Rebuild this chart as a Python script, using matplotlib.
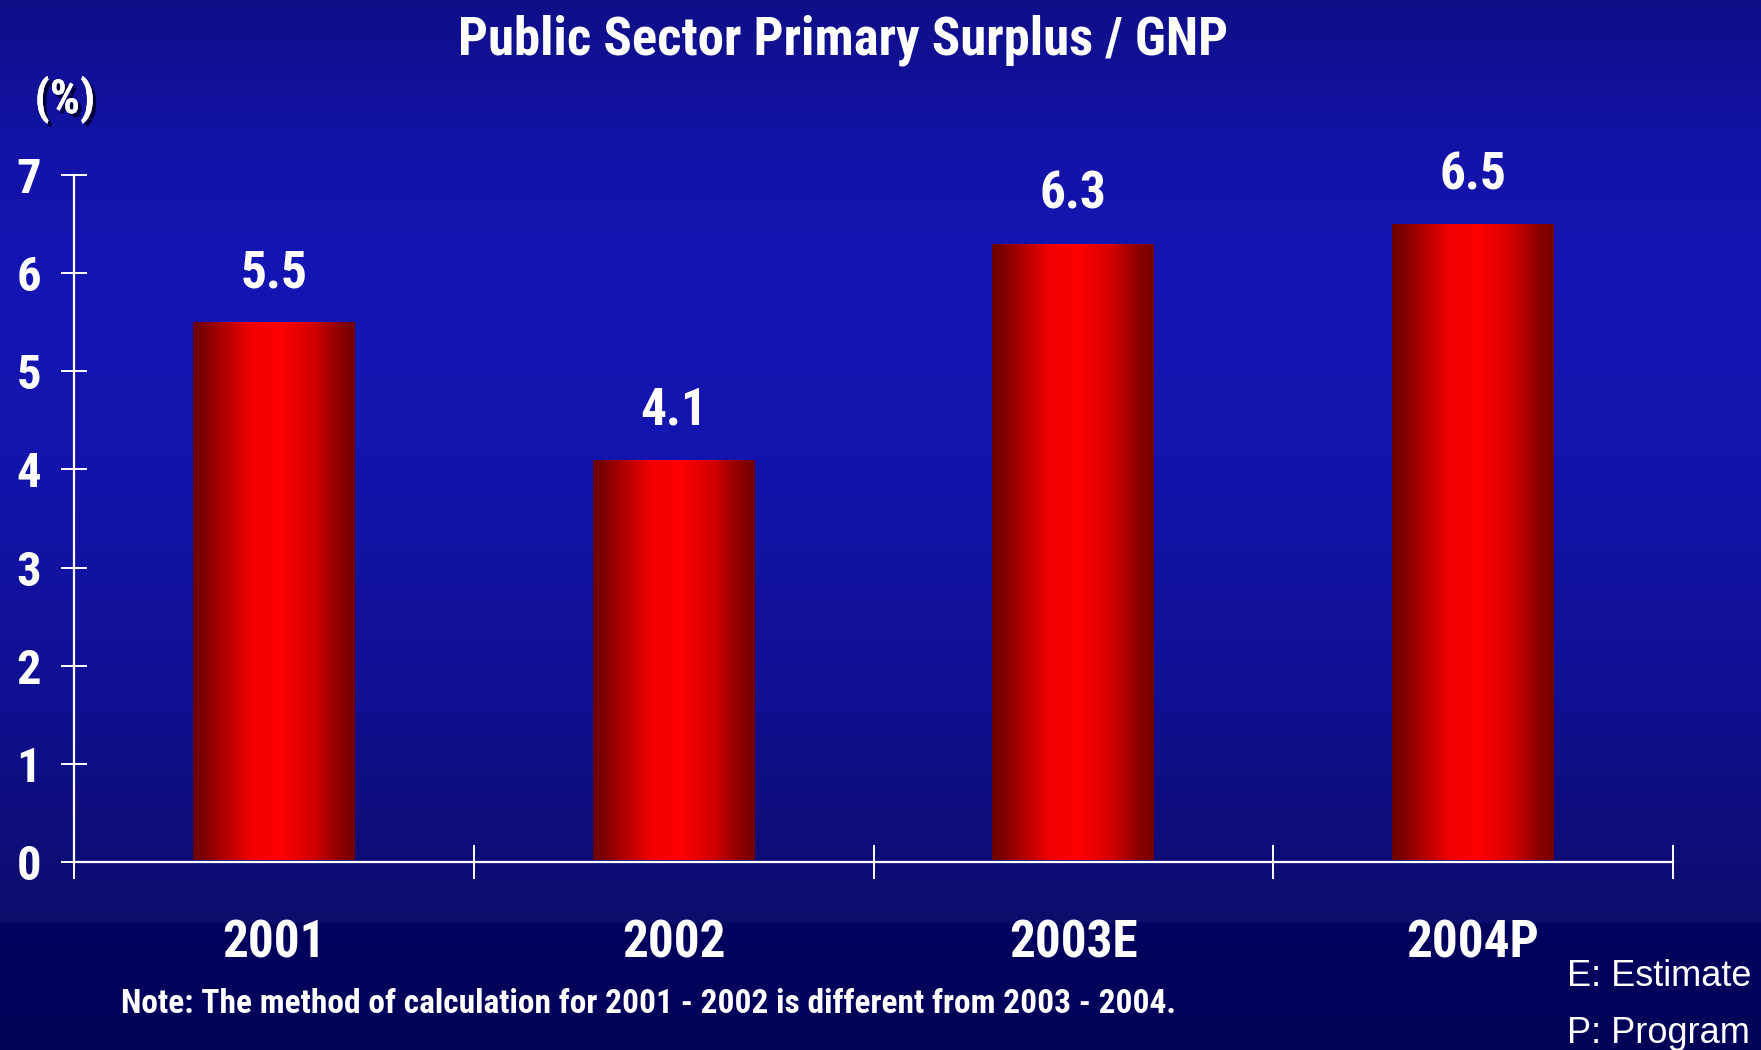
import numpy as np
import matplotlib
matplotlib.use("Agg")
import matplotlib.pyplot as plt
from matplotlib import font_manager
import matplotlib.patheffects as pe

# ---- data ----
categories = ["2001", "2002", "2003E", "2004P"]
values = [5.5, 4.1, 6.3, 6.5]
yticks = [0, 1, 2, 3, 4, 5, 6, 7]
title = "Public Sector Primary Surplus / GNP"
unit_label = "(%)"
note = "Note: The method of calculation for 2001 - 2002 is different from 2003 - 2004."
legend_lines = ["E: Estimate", "P: Program"]

names = {f.name for f in font_manager.fontManager.ttflist}
if "Liberation Sans Narrow" in names:
    NARROW = ["Liberation Sans Narrow", "DejaVu Sans"]
elif "Roboto Condensed" in names:
    NARROW = ["Roboto Condensed", "DejaVu Sans"]
else:
    NARROW = ["Liberation Sans", "DejaVu Sans"]
REG = ["Liberation Sans", "DejaVu Sans"]

W, H = 1761, 1050
fig = plt.figure(figsize=(W / 100, H / 100), dpi=100)

# ---- background gradient ----
bg_ax = fig.add_axes([0, 0, 1, 1], zorder=-10)
ys = np.arange(H)
stops_y = [0, 150, 260, 450, 700, 921, 923, 1050]
stops_c = np.array([
    [0x0F, 0x0F, 0x88], [0x13, 0x13, 0xA8], [0x15, 0x15, 0xB3], [0x14, 0x14, 0xAE],
    [0x10, 0x10, 0x92], [0x0C, 0x0C, 0x6C], [0x02, 0x02, 0x5F], [0x02, 0x02, 0x58]]) / 255.0
grad = np.stack([np.interp(ys, stops_y, stops_c[:, k]) for k in range(3)], axis=-1)
bg = np.repeat(grad[:, None, :], 2, axis=1)
bg_ax.imshow(bg, aspect="auto", extent=(0, 1, 0, 1), origin="upper")
bg_ax.set_axis_off()

# ---- main axes ----
x0, x1 = 74, 1673
y0, y1 = 862, 175
ax = fig.add_axes([x0 / W, 1 - y0 / H, (x1 - x0) / W, (y0 - y1) / H])
ax.set_facecolor("none")
ax.set_xlim(-0.5, len(categories) - 0.5)
ax.set_ylim(0, 7)

xpos = np.arange(len(categories))
bars = ax.bar(xpos, values, width=0.405, color="none", edgecolor="none", zorder=2)

# horizontal red gradient for bars
t = np.linspace(0, 1, 256)
r = np.interp(t, [0, 0.05, 0.18, 0.36, 0.54, 0.75, 0.9, 1.0],
              [0.43, 0.47, 0.68, 0.95, 1.0, 0.82, 0.56, 0.45])
bar_grad = np.zeros((1, 256, 3))
bar_grad[0, :, 0] = r
for b in bars:
    bx, by = b.get_x(), b.get_y()
    bw, bh = b.get_width(), b.get_height()
    im = ax.imshow(bar_grad, aspect="auto", extent=(bx, bx + bw, by + 0.02, by + bh),
                   zorder=2, interpolation="bilinear")
    im.set_clip_path(b)

ax.set_xlim(-0.5, len(categories) - 0.5)
ax.set_ylim(0, 7)

for xi, v in zip(xpos, values):
    ax.annotate(f"{v}", (xi, v), xytext=(0, 25), textcoords="offset points",
                ha="center", va="baseline", color="white", fontsize=37,
                fontweight="bold", family=NARROW, annotation_clip=False)

# spines
for s in ["top", "right"]:
    ax.spines[s].set_visible(False)
for s in ["left", "bottom"]:
    ax.spines[s].set_color("white")
    ax.spines[s].set_linewidth(1.6)
ax.spines["left"].set_zorder(3)
ax.spines["bottom"].set_zorder(3)

ax.set_yticks(yticks)
ax.set_yticklabels([str(v) for v in yticks])
ax.tick_params(axis="y", direction="inout", length=19, width=1.4, colors="white",
               labelsize=35, pad=14)
ax.set_xticks(xpos)
ax.set_xticklabels(categories)
ax.tick_params(axis="x", which="major", length=0, colors="white", labelsize=37, pad=41)
ax.set_xticks(np.arange(-0.5, len(categories)), minor=True)
ax.tick_params(axis="x", which="minor", direction="inout", length=24, width=1.4,
               color="white")
for lab in ax.get_xticklabels() + ax.get_yticklabels():
    lab.set_fontweight("bold")
    lab.set_family(NARROW)
    lab.set_color("white")

# ---- texts ----
fig.text(843 / W, 1 - 54 / H, title, ha="center", va="baseline", color="white",
         fontsize=38, fontweight="bold", family=NARROW)
fig.text(65 / W, 1 - 100 / H, unit_label, ha="center", va="center", color="white",
         fontsize=34, fontweight="bold", family=NARROW,
         path_effects=[pe.withSimplePatchShadow(offset=(2.5, -2.5),
                                                shadow_rgbFace="#000030", alpha=0.9),
                       pe.Normal()])
fig.text(121 / W, 1 - 1013 / H, note, ha="left", va="baseline", color="white",
         fontsize=24, fontweight="bold", family=NARROW)
fig.text(1567 / W, 1 - 986 / H, legend_lines[0], ha="left", va="baseline",
         color="white", fontsize=26, family=REG)
fig.text(1567 / W, 1 - 1043 / H, legend_lines[1], ha="left", va="baseline",
         color="white", fontsize=26, family=REG)

fig.savefig("out.png", dpi=100)
